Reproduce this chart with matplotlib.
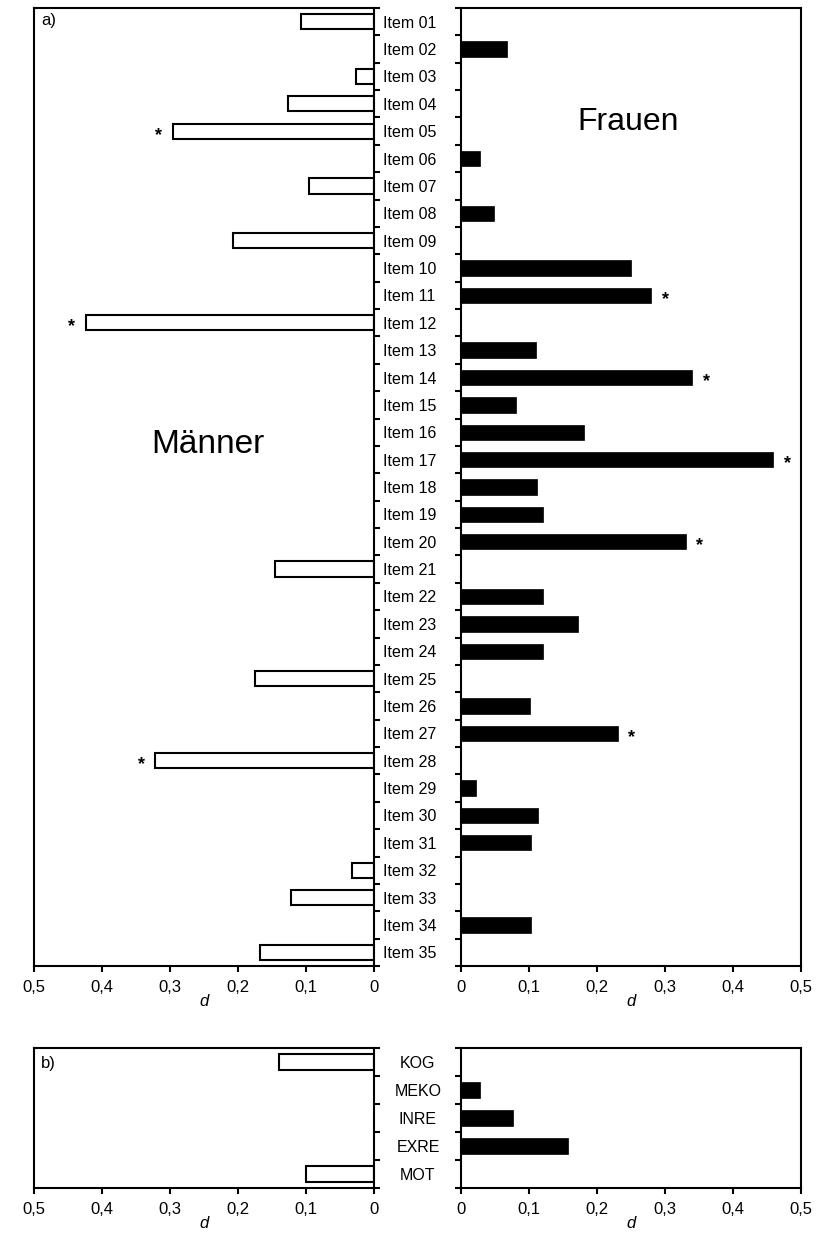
import numpy as np
import matplotlib
matplotlib.use("Agg")
import matplotlib.pyplot as plt

plt.rcParams['font.family'] = ['Liberation Sans', 'DejaVu Sans']

# ---------------- data ----------------
items = [f"Item {i:02d}" for i in range(1, 36)]
maenner = [0.107, None, 0.026, 0.127, 0.296, None, 0.096, None, 0.207, None,
           None, 0.424, None, None, None, None, None, None, None, None,
           0.146, None, None, None, 0.175, None, None, 0.322, None, None,
           None, 0.032, 0.122, None, 0.168]
frauen = [None, 0.068, None, None, None, 0.028, None, 0.049, None, 0.250,
          0.280, None, 0.110, 0.340, 0.081, 0.181, 0.459, 0.112, 0.120, 0.331,
          None, 0.120, 0.172, 0.120, None, 0.101, 0.231, None, 0.022, 0.113,
          0.103, None, None, 0.103, None]
sig_maenner = [5, 12, 28]
sig_frauen = [11, 14, 17, 20, 27]

scales = ["KOG", "MEKO", "INRE", "EXRE", "MOT"]
maenner_b = [0.140, None, None, None, 0.100]
frauen_b = [None, 0.028, 0.076, 0.157, None]

xticks = [0, 0.1, 0.2, 0.3, 0.4, 0.5]
xticklabels = ["0", "0,1", "0,2", "0,3", "0,4", "0,5"]

# ---------------- figure ----------------
W, H = 832, 1236
fig = plt.figure(figsize=(W / 100, H / 100), dpi=100)

def fax(x0, y0, x1, y1):
    return fig.add_axes([x0 / W, 1 - y1 / H, (x1 - x0) / W, (y1 - y0) / H])

axL = fax(34, 8, 374, 966)
axR = fax(461, 8, 801, 966)
bxL = fax(34, 1048, 374, 1188)
bxR = fax(461, 1048, 801, 1188)

LW = 1.5
FS = 11.5

def style(ax, cats, side, pad):
    n = len(cats)
    ax.set_ylim(n - 0.5, -0.5)
    if side == 'left':
        ax.set_xlim(0.5, 0)
    else:
        ax.set_xlim(0, 0.5)
    for s in ax.spines.values():
        s.set_linewidth(LW)
    ax.set_xticks(xticks)
    ax.set_xticklabels(xticklabels, fontsize=12)
    ax.tick_params(axis='x', direction='out', length=4, width=LW, pad=6)
    ax.set_xlabel("d", fontstyle='italic', fontsize=12, labelpad=-1)
    ax.set_yticks(np.arange(-0.5, n, 1.0))
    ax.set_yticklabels([])
    if side == 'left':
        ax.yaxis.tick_right()
        ax.tick_params(axis='y', which='major', direction='out', length=4,
                       width=LW, left=False, right=True)
    else:
        ax.tick_params(axis='y', which='major', direction='out', length=4,
                       width=LW, left=True, right=False)
        ax.set_yticks(np.arange(n), minor=True)
        ax.set_yticklabels(cats, minor=True, fontsize=FS)
        ax.tick_params(axis='y', which='minor', length=0, pad=pad)
        for tl in ax.get_yticklabels(minor=True):
            tl.set_ha('center')

def bars(ax, vals, filled, sig=None, side='left'):
    idx = [i for i, v in enumerate(vals) if v is not None]
    w = [vals[i] for i in idx]
    ax.barh(idx, w, height=0.56,
            color='black' if filled else 'white',
            edgecolor='black', linewidth=LW if not filled else 0.5)
    if sig:
        for k in sig:
            i = k - 1
            ax.annotate("*", xy=(vals[i], i), xytext=(-10 if side == 'left' else 10, -3),
                        textcoords='offset points', ha='center', va='center',
                        fontsize=13, fontweight='bold')

style(axL, items, 'left', 0)
style(axR, items, 'right', 37)
style(bxL, scales, 'left', 0)
style(bxR, scales, 'right', 31)

bars(axL, maenner, False, sig_maenner, 'left')
bars(axR, frauen, True, sig_frauen, 'right')
bars(bxL, maenner_b, False)
bars(bxR, frauen_b, True)

axL.text(0.512, 0.544, "Männer", transform=axL.transAxes, ha='center', va='center', fontsize=24)
axR.text(0.491, 0.881, "Frauen", transform=axR.transAxes, ha='center', va='center', fontsize=23)
axL.text(0.02, 0.987, "a)", transform=axL.transAxes, ha='left', va='center', fontsize=12)
bxL.text(0.02, 0.89, "b)", transform=bxL.transAxes, ha='left', va='center', fontsize=12)

fig.savefig("out.png", dpi=100)
